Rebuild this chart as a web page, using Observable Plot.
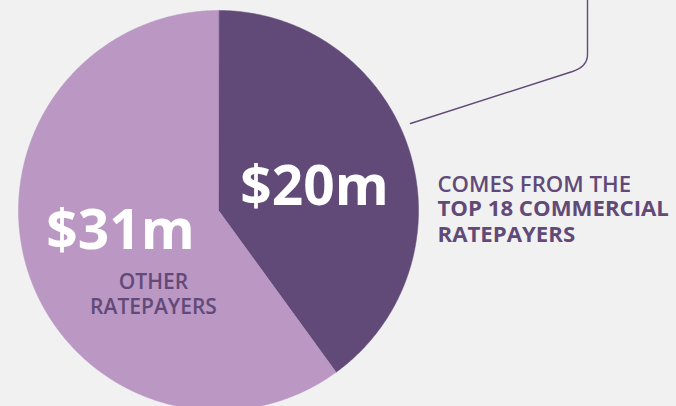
<!DOCTYPE html>
<html><head><meta charset="utf-8">
<script src="https://cdn.jsdelivr.net/npm/d3@7"></script>
<script src="https://cdn.jsdelivr.net/npm/@observablehq/plot@0.6"></script>
<style>html,body{margin:0;padding:0;background:#f1f1f1;overflow:hidden}svg{display:block}</style>
</head><body><div id="chart"></div>
<script>
// ---- data ----
const categories = ["Top 18 commercial ratepayers", "Other ratepayers"];
const values = [20.4, 30.6];
const valueLabels = ["$20m", "$31m"];
const subLabels = ["", "OTHER\nRATEPAYERS"];
const sideHeadRegular = "COMES FROM THE";
const sideHeadBold = "TOP 18 COMMERCIAL\nRATEPAYERS";
const sliceColors = ["#614a78", "#bb97c4"];

// ---- layout ----
const W = 676, H = 406;
const cx = 218, cy = 210, R = 200;
const purple = "#614a78";

const data = categories.map((c, i) => ({category: c, value: values[i], color: sliceColors[i]}));
const arcs = d3.pie().sort(null).value(d => d.value)(data);

const pts = [];
arcs.forEach((a, i) => {
  pts.push({slice: i, x: cx, y: cy});
  const n = Math.ceil((a.endAngle - a.startAngle) / (Math.PI / 360));
  for (let k = 0; k <= n; k++) {
    const t = a.startAngle + (a.endAngle - a.startAngle) * k / n;
    pts.push({slice: i, x: cx + R * Math.sin(t), y: cy - R * Math.cos(t)});
  }
});

// leader line with rounded corner
const leader = [];
const p0 = [410, 123], corner = [587, 66], p2 = [587, 0];
const cA = [572, 71], cB = [587, 54];
leader.push({x: p0[0], y: p0[1]});
for (let k = 0; k <= 10; k++) {
  const t = k / 10;
  const x = (1 - t) * (1 - t) * cA[0] + 2 * (1 - t) * t * corner[0] + t * t * cB[0];
  const y = (1 - t) * (1 - t) * cA[1] + 2 * (1 - t) * t * corner[1] + t * t * cB[1];
  leader.push({x, y});
}
leader.push({x: p2[0], y: p2[1]});

const font = "'Open Sans', 'Noto Sans', sans-serif";

const chart = Plot.plot({
  width: W, height: H,
  margin: 0,
  x: {domain: [0, W], range: [0, W], axis: null},
  y: {domain: [0, H], range: [0, H], axis: null},
  style: {background: "#f1f1f1", fontFamily: font, overflow: "hidden"},
  marks: [
    ...arcs.map((a, i) => Plot.line(pts.filter(p => p.slice === i), {
      x: "x", y: "y", fill: sliceColors[i], stroke: sliceColors[i], strokeWidth: 0.5, curve: "linear-closed"
    })),
    Plot.line(leader, {x: "x", y: "y", stroke: purple, strokeWidth: 1.4}),
    Plot.text([valueLabels[0]], {x: () => 314, y: () => 204, text: d => d, fill: "white", fontSize: 55, fontWeight: "bold", textAnchor: "middle", lineAnchor: "bottom"}),
    Plot.text([valueLabels[1]], {x: () => 120, y: () => 248, text: d => d, fill: "white", fontSize: 55, fontWeight: "bold", textAnchor: "middle", lineAnchor: "bottom"}),
    Plot.text([subLabels[1]], {x: () => 153, y: () => 313, text: d => d, fill: purple, fontSize: 21, fontWeight: 600, textAnchor: "middle", lineAnchor: "bottom", lineHeight: 1.15}),
    Plot.text([sideHeadRegular], {x: () => 437, y: () => 191, text: d => d, fill: purple, fontSize: 22.2, fontWeight: 600, textAnchor: "start", lineAnchor: "bottom"}),
    Plot.text([sideHeadBold], {x: () => 437, y: () => 241, text: d => d, fill: purple, fontSize: 22.2, fontWeight: "bold", textAnchor: "start", lineAnchor: "bottom", lineHeight: 1.13})
  ]
});
document.getElementById("chart").append(chart);
</script>
</body></html>
